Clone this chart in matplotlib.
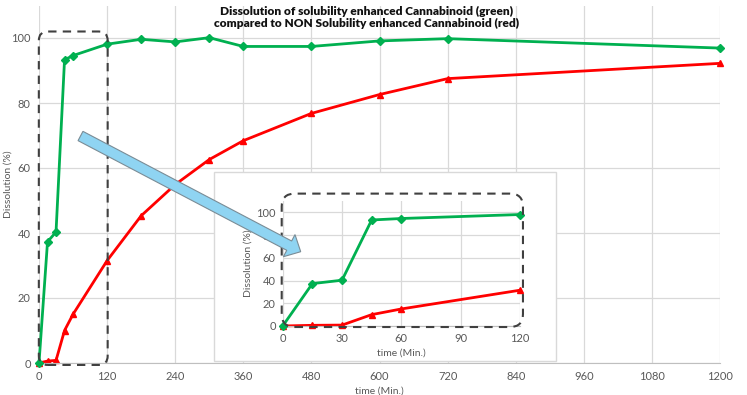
import matplotlib
matplotlib.use("Agg")
import matplotlib.pyplot as plt
from matplotlib.patches import FancyBboxPatch, FancyArrow, Rectangle
from matplotlib.transforms import IdentityTransform

plt.rcParams['font.family'] = ['Lato', 'DejaVu Sans']

time_min = [0, 15, 30, 45, 60, 120, 180, 240, 300, 360, 480, 600, 720, 1200]
green_enhanced = [0, 37.3, 40.3, 93.3, 94.6, 98.1, 99.6, 98.8, 100.1, 97.4, 97.4, 99.1, 99.8, 96.9]
red_non_enhanced = [0, 0.6, 0.8, 10.0, 15.0, 31.5, 45.3, 54.9, 62.6, 68.4, 76.8, 82.6, 87.5, 92.2]

inset_time = [t for t in time_min if t <= 120]
inset_green = green_enhanced[:len(inset_time)]
inset_red = red_non_enhanced[:len(inset_time)]

main_xticks = list(range(0, 1201, 120))
main_yticks = [0, 20, 40, 60, 80, 100]
inset_xticks = [0, 30, 60, 90, 120]

GREEN = '#00B050'
RED = '#FF0000'
GRID = '#D9D9D9'
TICKC = '#595959'

W, H = 747, 395
fig = plt.figure(figsize=(W / 100, H / 100), dpi=100)

def frac(x0, y0, x1, y1):
    return [x0 / W, 1 - y1 / H, (x1 - x0) / W, (y1 - y0) / H]

ax = fig.add_axes(frac(39, 5.5, 720, 363), zorder=0)
ax.plot(time_min, green_enhanced, color=GREEN, lw=2, marker='D', ms=4.5, zorder=3, clip_on=False)
ax.plot(time_min, red_non_enhanced, color=RED, lw=2, marker='^', ms=4.5, zorder=2, clip_on=False)
ax.set_xlim(0, 1200)
ax.set_ylim(0, 110)
ax.set_xticks(main_xticks)
ax.set_yticks(main_yticks)
ax.grid(True, color=GRID, lw=0.9)
ax.set_axisbelow(True)
for s in ['top', 'right', 'left']:
    ax.spines[s].set_visible(False)
ax.spines['bottom'].set_color('#BFBFBF')
ax.tick_params(length=0, labelsize=8, labelcolor=TICKC, pad=6)
ax.set_ylabel('Dissolution (%)', fontsize=7.5, color=TICKC)
ax.yaxis.set_label_coords((13 - 39) / 681, 0.5)
ax.set_xlabel('time (Min.)', fontsize=7.5, color=TICKC, labelpad=3)

fig.text(367 / W, 1 - 17.5 / H,
         'Dissolution of solubility enhanced Cannabinoid (green)\ncompared to NON Solubility enhanced Cannabinoid (red)',
         ha='center', va='center', fontsize=8.6, fontweight='heavy', color='#111111', linespacing=1.2)

# inset frame
fig.add_artist(Rectangle((214 / W, 1 - 361 / H), (556 - 214) / W, (361 - 172) / H,
                         transform=fig.transFigure, facecolor='white', edgecolor='#D9D9D9',
                         lw=1, zorder=1))

axi = fig.add_axes(frac(282.7, 201, 520, 326), zorder=2)
axi.plot(inset_time, inset_green, color=GREEN, lw=2, marker='D', ms=4.5, zorder=3, clip_on=False)
axi.plot(inset_time, inset_red, color=RED, lw=2, marker='^', ms=4.5, zorder=2, clip_on=False)
axi.set_xlim(0, 120)
axi.set_ylim(0, 110)
axi.set_xticks(inset_xticks)
axi.set_yticks(main_yticks)
axi.grid(True, color=GRID, lw=0.9)
axi.set_axisbelow(True)
axi.patch.set_alpha(0)
for s in ['top', 'right', 'left']:
    axi.spines[s].set_visible(False)
axi.spines['bottom'].set_color('#BFBFBF')
axi.tick_params(length=0, labelsize=8, labelcolor=TICKC, pad=5)
axi.set_ylabel('Dissolution (%)', fontsize=7.5, color=TICKC, labelpad=3)
axi.set_xlabel('time (Min.)', fontsize=7.5, color=TICKC, labelpad=3)

fig.canvas.draw()

def dashed_box(axes, x0, y0, x1, y1, r):
    (px0, py0) = axes.transData.transform((x0, y0))
    (px1, py1) = axes.transData.transform((x1, y1))
    p = FancyBboxPatch((px0, py0), px1 - px0, py1 - py0,
                       boxstyle=f"round,pad=0,rounding_size={r}",
                       transform=IdentityTransform(), fill=False,
                       edgecolor='#404040', lw=1.5, linestyle=(0, (4, 3)), zorder=5)
    fig.add_artist(p)

dashed_box(ax, -0.3, -0.6, 121, 102, 9)
dashed_box(axi, -0.5, -0.9, 121.5, 116.5, 13)

# arrow (display pixels)
tail = (80.5, H - 136)
tip = (300.7, H - 251.7)
fig.add_artist(FancyArrow(tail[0], tail[1], tip[0] - tail[0], tip[1] - tail[1],
                          width=10.5, head_width=25, head_length=13, length_includes_head=True,
                          transform=IdentityTransform(), facecolor='#8FD4F2',
                          edgecolor='#7A8C96', lw=0.8, zorder=6))

fig.savefig('out.png', dpi=100)
